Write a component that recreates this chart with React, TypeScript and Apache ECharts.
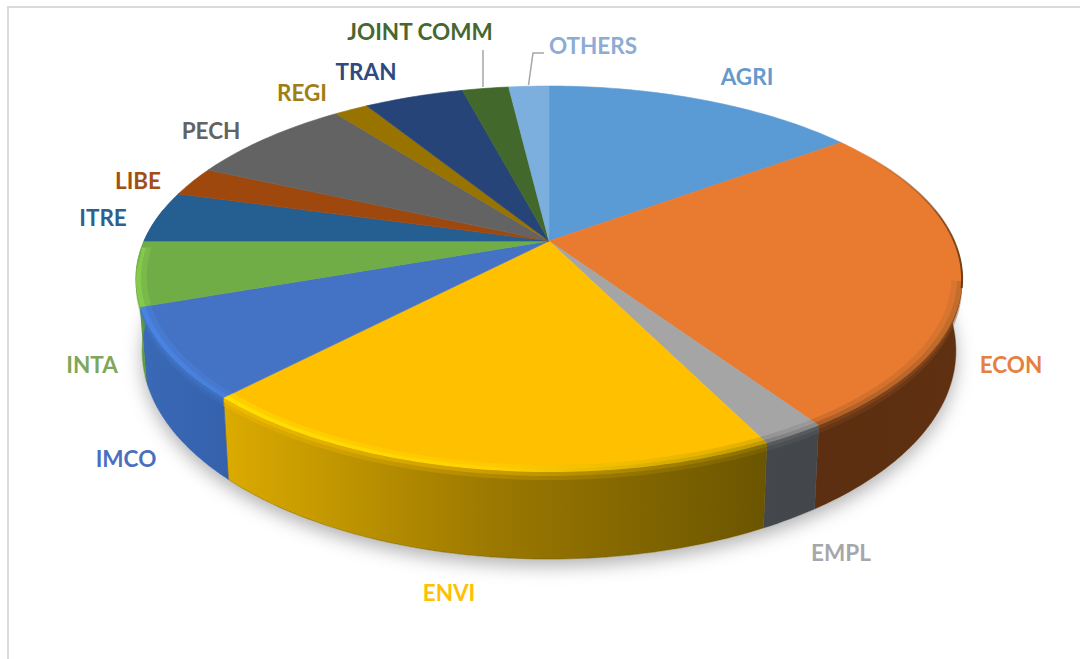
import React, { useEffect, useRef } from "react";
import * as echarts from "echarts";

const categories = ["AGRI", "ECON", "EMPL", "ENVI", "IMCO", "INTA", "ITRE", "LIBE", "PECH", "REGI", "TRAN", "JOINT COMM", "OTHERS"];
const shares = [14.9, 25.7, 2.1, 19.4, 7.5, 5.4, 4.3, 2.5, 7.8, 1.6, 4.7, 2.2, 1.9];

const topColors = ["#5B9BD5", "#E97B30", "#A5A5A5", "#FFC000", "#4472C4", "#70AD47", "#255E91", "#9E480E", "#636363", "#997300", "#264478", "#43682B", "#7CAFDD"];
const labelColors = ["#6699CC", "#E5803F", "#A5A7AA", "#FFC000", "#4A6FBF", "#7FA75A", "#2F5F8F", "#A34E14", "#636363", "#A07E14", "#2F4A80", "#46672F", "#8CACD4"];
const wallStops: Record<number, string[]> = {
  1: ["#5C2F12", "#5F3011"],
  2: ["#44484C", "#43474B"],
  3: ["#DCAB00", "#9B7800", "#6B5500"],
  4: ["#3A69B6", "#3561AC"],
  5: ["#5E9A3A", "#5E9A3A"],
};
const rimStops: Record<number, string[]> = {
  1: ["#A85A24", "#C06C2C"],
  2: ["#7A7A7A", "#8A8A8A"],
  3: ["#FFE400", "#FFD400", "#B89400"],
  4: ["#4A86E4", "#4A80DC"],
  5: ["#88CC50", "#88CC50"],
};
const bandStops: Record<number, string[]> = {
  1: ["#7A4018", "#8C4A1E"],
  2: ["#5A5C5E", "#5A5C5E"],
  3: ["#F2BC00", "#D0A000", "#8E7200"],
  4: ["#3F74C8", "#3D70C0"],
  5: ["#6FAE42", "#6FAE42"],
};

const labelAnchors: Record<string, [number, number]> = {
  AGRI: [747, 76], ECON: [1011, 364], EMPL: [841, 552], ENVI: [449, 592], IMCO: [126, 458], INTA: [92, 364],
  ITRE: [103, 217], LIBE: [138, 180], PECH: [211, 130], REGI: [302, 92], TRAN: [366, 71], "JOINT COMM": [420, 31], OTHERS: [593, 45],
};

// perspective disc geometry
const CX = 549, CY = 241, A = 405, B = 185.5, K = 0.197;
const rimTop = (deg: number, r = 1, drop = 0): number[] => {
  const t = (deg * Math.PI) / 180;
  const u = r * Math.sin(t), v = -r * Math.cos(t), s = 1 - K * v;
  return [CX + (A * u) / s, CY + (B * v) / s + drop];
};
const rimBottom = (deg: number): number[] => {
  const t = (deg * Math.PI) / 180;
  const u = Math.sin(t), v = -Math.cos(t), s = 1 - K * v;
  return [CX + (0.985 * A * u) / s, CY + (B * v) / s + 68 + 19 * v];
};
const total = shares.reduce((a, b) => a + b, 0);
const spanOf = (i: number): [number, number] => {
  let sum = 0;
  for (let k = 0; k < i; k++) sum += shares[k];
  return [(sum / total) * 360, ((sum + shares[i]) / total) * 360];
};
const sweep = (a: number, b: number, f: (d: number) => number[]) => {
  const n = Math.max(2, Math.ceil(b - a));
  const out: number[][] = [];
  for (let j = 0; j <= n; j++) out.push(f(a + ((b - a) * j) / n));
  return out;
};
const hGrad = (cols: string[]) =>
  new echarts.graphic.LinearGradient(0, 0, 1, 0, cols.map((c, i) => ({ offset: i / (cols.length - 1), color: c })));
const strip = (a: number, b: number, r1: number, d1: number, r2: number, d2: number, cols: string[], opacity: number) => ({
  type: "polygon",
  shape: { points: sweep(a, b, (d) => rimTop(d, r1, d1)).concat(sweep(a, b, (d) => rimTop(d, r2, d2)).reverse()) },
  style: { fill: hGrad(cols), opacity },
});

export default function App() {
  const ref = useRef<HTMLDivElement>(null);
  useEffect(() => {
    document.body.style.margin = "0";
    const chart = echarts.init(ref.current!, undefined, { renderer: "svg" });
    const option = {
      animation: false,
      backgroundColor: "#ffffff",
      graphic: [
        { type: "rect", z: 0, shape: { x: 8, y: 7, width: 1200, height: 800 }, style: { fill: "#fff", stroke: "#DADADA", lineWidth: 2 } },
        { type: "line", z: 10, shape: { x1: 483, y1: 50, x2: 483, y2: 87 }, style: { stroke: "#A6A6A6", lineWidth: 1.5 } },
        { type: "polyline", z: 10, shape: { points: [[528.5, 85], [533, 53], [544, 53]] }, style: { stroke: "#A6A6A6", lineWidth: 1.5, fill: "none" } },
        ...categories.map((c, i) => ({
          type: "text",
          z: 10,
          x: labelAnchors[c][0],
          y: labelAnchors[c][1],
          style: { text: c, fill: labelColors[i], font: "bold 22.5px Lato", align: "center", verticalAlign: "middle" },
        })),
      ],
      series: [
        {
          type: "custom",
          name: "shadow",
          coordinateSystem: "none",
          z: 1,
          silent: true,
          data: [1],
          renderItem: () => ({
            type: "polygon",
            shape: { points: sweep(80, 280, rimBottom).concat(sweep(-80, 80, rimBottom)) },
            style: { fill: "#fff", shadowBlur: 18, shadowColor: "rgba(0,0,0,0.3)", shadowOffsetX: 0, shadowOffsetY: 7 },
          }),
        },
        {
          type: "custom",
          name: "walls",
          coordinateSystem: "none",
          z: 2,
          silent: true,
          data: shares,
          renderItem: (p: any) => {
            const [a0, b0] = spanOf(p.dataIndex);
            const a = Math.max(a0, 80), b = Math.min(b0, 280);
            if (b <= a) return { type: "group", children: [] };
            const stops = wallStops[p.dataIndex] || [topColors[p.dataIndex], topColors[p.dataIndex]];
            return {
              type: "polygon",
              shape: { points: sweep(a, b, (d) => rimTop(d)).concat(sweep(a, b, rimBottom).reverse()) },
              style: { fill: hGrad(stops), stroke: stops[stops.length - 1], lineWidth: 0.5 },
            };
          },
        },
        {
          type: "custom",
          name: "tops",
          coordinateSystem: "none",
          z: 3,
          silent: true,
          data: shares,
          renderItem: (p: any) => {
            const [a, b] = spanOf(p.dataIndex);
            const col = topColors[p.dataIndex];
            return {
              type: "polygon",
              shape: { points: [[CX, CY], ...sweep(a, b, (d) => rimTop(d))] },
              style: { fill: col, stroke: col, lineWidth: 0.6 },
            };
          },
        },
        {
          type: "custom",
          name: "rims",
          coordinateSystem: "none",
          z: 4,
          silent: true,
          data: shares,
          renderItem: (p: any) => {
            const [a0, b0] = spanOf(p.dataIndex);
            const i = p.dataIndex;
            const stops = rimStops[i];
            if (!stops) return { type: "group", children: [] };
            const a = Math.max(a0, 102), b = Math.min(b0, 268);
            const band = bandStops[i];
            const children: any[] = [
              strip(a, b, 0.975, 0, 0.988, 0, stops, 0.4),
              strip(a, b, 0.988, 0, 1, 0, stops, 0.9),
              strip(a, b, 1, 0, 1, 4, band, 0.9),
              strip(a, b, 1, 4, 1, 8, band, 0.4),
            ];
            if (i === 1) {
              children.push({
                type: "polyline",
                shape: { points: sweep(58, 104, (d) => rimTop(d)) },
                style: { fill: "none", stroke: new echarts.graphic.LinearGradient(0, 0, 1, 1, [{ offset: 0, color: "rgba(110,60,20,0)" }, { offset: 1, color: "#6B3A14" }]), lineWidth: 2 },
              });
            }
            return { type: "group", children };
          },
        },
      ],
    };
    chart.setOption(option as any);
    return () => chart.dispose();
  }, []);
  return <div ref={ref} style={{ width: 1080, height: 659 }} />;
}
